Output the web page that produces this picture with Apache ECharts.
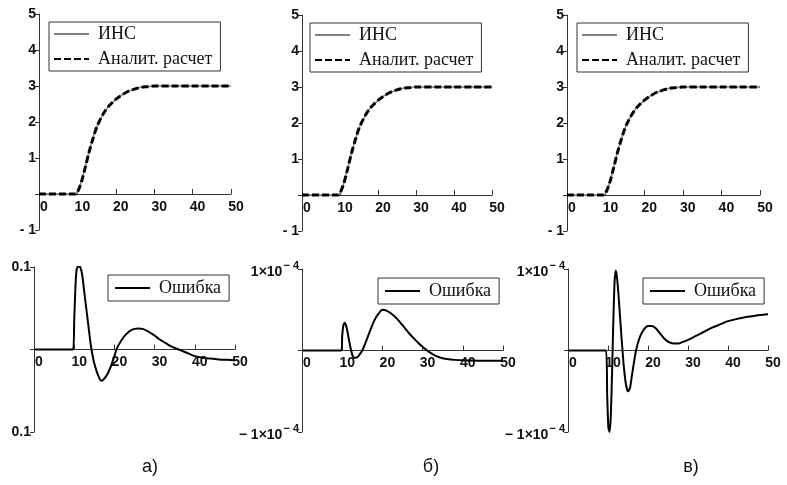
<!DOCTYPE html>
<html>
<head>
    <meta charset="utf-8">
    <script type="text/javascript" src="https://cdn.jsdelivr.net/npm/echarts@6/dist/echarts.min.js"></script>
    <style type="text/css">
        *{
            margin: 0;
            padding: 0;
        }
        #main{
            width: 787px;
            height: 485px;
            background: #fff;
        }
    </style>
</head>
<body>
<div id="main"></div>
<script type="text/javascript">

    // верхние графики: переходный процесс (одинаковый во всех трёх случаях)
    var tTop = [0, 9.5, 10, 11, 12, 13, 14, 15, 16, 17, 18, 19, 20, 21, 22, 23, 24, 25, 26, 27, 28, 30, 35, 40, 45, 50];
    var yAnalit = [0, 0, 0.05, 0.32, 0.72, 1.15, 1.52, 1.85, 2.08, 2.27, 2.42, 2.53, 2.63, 2.71, 2.78, 2.84, 2.88, 2.92, 2.95, 2.97, 2.98, 3.0, 3.0, 3.0, 3.0, 3.0];
    var yIns = [0, 0, 0.05, 0.33, 0.73, 1.16, 1.53, 1.85, 2.08, 2.27, 2.42, 2.53, 2.63, 2.71, 2.78, 2.84, 2.88, 2.92, 2.95, 2.97, 2.98, 3.0, 3.0, 3.0, 3.0, 3.0];

    // ошибка а)
    var tErrA = [0, 9.7, 10, 10.3, 10.6, 11, 11.5, 12, 12.5, 13, 13.5, 14, 14.3, 15, 16, 16.8, 18, 19, 20, 20.5, 21, 22, 23, 24, 25, 26, 27, 28, 29, 30, 31, 32, 33, 34, 35, 36, 37, 38, 40, 42, 44, 46, 48, 50];
    var errA = [0, 0, 0.035, 0.075, 0.097, 0.101, 0.1, 0.09, 0.07, 0.05, 0.03, 0.01, 0, -0.017, -0.032, -0.038, -0.032, -0.022, -0.008, 0, 0.005, 0.013, 0.019, 0.023, 0.025, 0.0255, 0.025, 0.023, 0.02, 0.017, 0.013, 0.01, 0.007, 0.004, 0.002, 0, -0.002, -0.004, -0.008, -0.01, -0.011, -0.012, -0.0125, -0.013];

    // ошибка б), в единицах 1e-4
    var tErrB = [0, 9.8, 10, 10.3, 10.6, 11, 11.5, 12, 12.5, 13, 13.5, 14, 15, 16, 17, 18, 19, 20, 21, 22, 23, 24, 25, 26, 27, 28, 29, 30, 31, 32, 33, 34, 35, 36, 38, 40, 45, 50];
    var errB = [0, 0, 0.18, 0.31, 0.34, 0.3, 0.18, 0.05, -0.05, -0.09, -0.09, -0.07, 0.0, 0.12, 0.25, 0.37, 0.45, 0.5, 0.49, 0.46, 0.42, 0.37, 0.31, 0.25, 0.19, 0.14, 0.09, 0.045, 0.005, -0.03, -0.06, -0.08, -0.095, -0.105, -0.115, -0.12, -0.125, -0.125];

    // ошибка в), в единицах 1e-4
    var tErrC = [0, 9.5, 9.8, 10.1, 10.4, 10.7, 11.0, 11.3, 11.6, 11.9, 12.2, 12.6, 13.0, 13.5, 14.0, 14.5, 15.0, 15.5, 16, 17, 18, 19, 20, 21, 22, 23, 24, 25, 26, 27, 28, 29, 30, 32, 34, 36, 38, 40, 42, 44, 46, 48, 50];
    var errC = [0, 0, -0.55, -0.95, -1.0, -0.8, -0.3, 0.3, 0.8, 0.98, 0.92, 0.7, 0.42, 0.08, -0.22, -0.42, -0.5, -0.46, -0.3, 0.0, 0.17, 0.26, 0.3, 0.3, 0.27, 0.21, 0.15, 0.11, 0.09, 0.085, 0.09, 0.11, 0.13, 0.18, 0.23, 0.28, 0.32, 0.36, 0.385, 0.405, 0.42, 0.435, 0.445];

    var xTicks = [0, 10, 20, 30, 40, 50];
    var panelLabels = ['а)', 'б)', 'в)'];

    function pairs(xs, ys) {
        var out = [];
        for (var i = 0; i < xs.length; i++) out.push([xs[i], ys[i]]);
        return out;
    }

    var grids = [
        {left: 39, top: 14, width: 192, height: 216},
        {left: 302, top: 15, width: 190, height: 216},
        {left: 567, top: 15, width: 193, height: 216},
        {left: 34, top: 267, width: 201, height: 165},
        {left: 302, top: 269, width: 201, height: 163},
        {left: 568, top: 269, width: 200, height: 163}
    ];
    // диапазоны оси Y для каждой панели
    var yRanges = [[-1, 5, 1], [-1, 5, 1], [-1, 5, 1], [-0.1, 0.1, 0.1], [-1, 1, 1], [-1, 1, 1]];

    var axisColor = '#333';
    var numFont = 'Liberation Sans';

    var xAxes = [], yAxes = [];
    for (var g = 0; g < 6; g++) {
        // ось X проходит через ноль оси Y: сдвигаем её от нижнего края сетки
        var r = yRanges[g];
        var zeroOffset = grids[g].height * (0 - r[0]) / (r[1] - r[0]);
        xAxes.push({
            gridIndex: g,
            type: 'value',
            min: xTicks[0],
            max: xTicks[xTicks.length - 1],
            interval: 10,
            offset: -zeroOffset,
            axisLine: {show: true, onZero: false, lineStyle: {color: axisColor, width: 1}},
            axisTick: {show: true, inside: true, length: 5, lineStyle: {color: axisColor}},
            splitLine: {show: false},
            axisLabel: {
                fontFamily: numFont, fontWeight: 'bold', fontSize: 14, color: '#111',
                margin: 6, padding: [0, 0, 0, 10]
            }
        });
    }
    function yAxis(g, fmt, rich) {
        var r = yRanges[g];
        return {
            gridIndex: g,
            type: 'value',
            min: r[0],
            max: r[1],
            interval: r[2],
            axisLine: {show: true, onZero: false, lineStyle: {color: axisColor, width: 1}},
            axisTick: {show: true, length: 4, lineStyle: {color: axisColor}},
            splitLine: {show: false},
            axisLabel: {
                fontFamily: numFont, fontWeight: 'bold', fontSize: 14, color: '#111',
                margin: 3, formatter: fmt, rich: rich
            }
        };
    }
    var fmtTop = function (v) {
        if (v === 0) return '';
        if (v < 0) return '- ' + Math.abs(v);
        return String(v);
    };
    var fmtA = function (v) {
        if (Math.abs(v) < 1e-9) return '';
        return '0.1';
    };
    var fmtE4 = function (v) {
        if (v === 1) return '{m|1×10}{s|− 4}';
        if (v === -1) return '{m|− 1×10}{s|− 4}';
        return '';
    };
    var richE4 = {
        m: {fontFamily: numFont, fontSize: 14, color: '#111', padding: [6, 0, 0, 0]},
        s: {fontFamily: numFont, fontSize: 11, color: '#111', padding: [0, 0, 6, 1]}
    };
    yAxes.push(yAxis(0, fmtTop));
    yAxes.push(yAxis(1, fmtTop));
    yAxes.push(yAxis(2, fmtTop));
    yAxes.push(yAxis(3, fmtA));
    yAxes.push(yAxis(4, fmtE4, richE4));
    yAxes.push(yAxis(5, fmtE4, richE4));

    var series = [];
    for (var k = 0; k < 3; k++) {
        series.push({
            name: 'ИНС', type: 'line', xAxisIndex: k, yAxisIndex: k,
            data: pairs(tTop, yIns), symbol: 'none', smooth: 0.3,
            lineStyle: {color: '#808080', width: 1.5}, itemStyle: {color: '#808080'}
        });
        series.push({
            name: 'Аналит. расчет', type: 'line', xAxisIndex: k, yAxisIndex: k,
            data: pairs(tTop, yAnalit), symbol: 'none', smooth: 0.3,
            lineStyle: {color: '#000', width: 3, type: [7, 3]}, itemStyle: {color: '#000'}
        });
    }
    var errSets = [[tErrA, errA], [tErrB, errB], [tErrC, errC]];
    for (var e = 0; e < 3; e++) {
        series.push({
            name: 'Ошибка', type: 'line', xAxisIndex: 3 + e, yAxisIndex: 3 + e,
            data: pairs(errSets[e][0], errSets[e][1]), symbol: 'none', smooth: 0.2,
            lineStyle: {color: '#000', width: 2}, itemStyle: {color: '#000'}
        });
    }

    function legend(left, top, names, pad) {
        return {
            left: left, top: top, orient: 'vertical',
            data: names, selectedMode: false,
            borderColor: '#333', borderWidth: 1, borderRadius: 0,
            padding: pad, itemWidth: 35, itemHeight: 16, itemGap: 7,
            itemStyle: {color: 'rgba(0,0,0,0)', borderWidth: 0},
            textStyle: {fontFamily: 'Liberation Serif', fontSize: 18, color: '#111', padding: [0, 0, 0, 4]}
        };
    }
    var topNames = ['ИНС', 'Аналит. расчет'];
    var legends = [
        legend(49, 22, topNames, [3, 8, 3, 4]),
        legend(310, 23, topNames, [3, 8, 3, 4]),
        legend(577, 23, topNames, [3, 8, 3, 4]),
        legend(108, 275, ['Ошибка'], [4, 8, 4, 6]),
        legend(378, 278, ['Ошибка'], [4, 8, 4, 6]),
        legend(643, 278, ['Ошибка'], [4, 8, 4, 6])
    ];

    var labelX = [150, 431, 691];
    var graphics = [];
    for (var p = 0; p < 3; p++) {
        graphics.push({
            type: 'text', x: labelX[p], y: 467,
            style: {
                text: panelLabels[p], font: '18px "Liberation Sans"', fill: '#111',
                align: 'center', verticalAlign: 'middle'
            }
        });
    }

    var myChart = echarts.init(document.getElementById('main'));
    myChart.setOption({
        animation: false,
        backgroundColor: '#fff',
        grid: grids,
        xAxis: xAxes,
        yAxis: yAxes,
        legend: legends,
        graphic: graphics,
        series: series
    });

</script>
</body>
</html>
